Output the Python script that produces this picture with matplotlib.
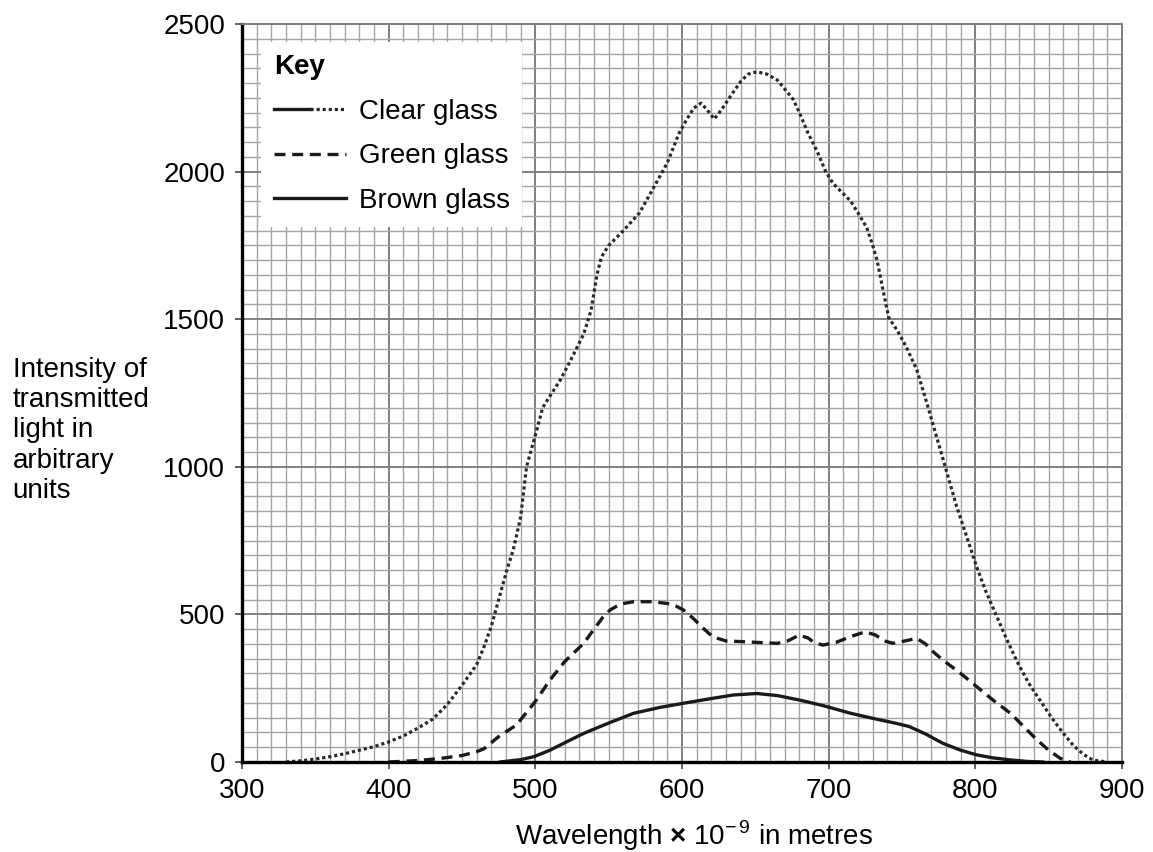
import matplotlib
matplotlib.use("Agg")
import matplotlib.pyplot as plt
from matplotlib.lines import Line2D
from matplotlib.legend_handler import HandlerTuple
from matplotlib.ticker import MultipleLocator

plt.rcParams['font.family'] = ['Liberation Sans', 'DejaVu Sans']
plt.rcParams['mathtext.fontset'] = 'custom'
plt.rcParams['mathtext.rm'] = 'Liberation Sans'
plt.rcParams['mathtext.bf'] = 'Liberation Sans:bold'

# Values (wavelength in nm, intensity in arbitrary units)
clear_x = [330, 340, 350, 360, 370, 380, 390, 400, 410, 420, 430, 440, 450, 460,
           465, 470, 475, 480, 485, 487, 490, 494, 501, 505, 510, 517, 525, 533,
           538, 542, 545, 550, 560, 571, 580, 590, 598, 603, 608, 613, 617, 622,
           627, 633, 640, 645, 651, 658, 665, 670, 676, 680, 686, 692, 698, 703,
           709, 715, 720, 726, 730, 733, 737, 741, 747, 753, 760, 767, 776, 787,
           795, 801, 807, 814, 821, 828, 836, 844, 852, 860, 867, 874, 880, 890]
clear_y = [0, 4, 10, 18, 28, 40, 52, 68, 88, 115, 145, 195, 260, 330,
           390, 460, 550, 640, 720, 763, 830, 1000, 1125, 1200, 1240, 1294, 1370, 1450,
           1530, 1650, 1710, 1750, 1800, 1860, 1940, 2030, 2130, 2175, 2215, 2232, 2210, 2178,
           2210, 2255, 2305, 2330, 2338, 2330, 2310, 2280, 2243, 2200, 2130, 2070, 2000, 1960,
           1930, 1900, 1860, 1810, 1750, 1700, 1600, 1505, 1460, 1405, 1330, 1215, 1060, 870,
           750, 660, 580, 500, 420, 345, 270, 210, 150, 97, 55, 25, 7, 0]

green_x = [400, 420, 435, 450, 460, 465, 475, 487, 500, 510, 520, 533, 540, 546,
           551, 558, 567, 580, 590, 596, 601, 608, 614, 621, 630, 640, 652, 665,
           672, 680, 686, 690, 696, 705, 715, 725, 732, 738, 744, 752, 760, 766,
           772, 778, 790, 801, 812, 824, 833, 842, 850, 858, 865]
green_y = [0, 5, 12, 22, 35, 45, 86, 125, 205, 278, 340, 402, 450, 490,
           515, 535, 543, 543, 537, 528, 515, 485, 455, 424, 410, 408, 405, 402,
           410, 430, 420, 405, 396, 405, 425, 441, 430, 410, 402, 410, 419, 400,
           370, 345, 300, 255, 210, 165, 120, 75, 40, 12, 0]

brown_x = [476, 490, 499, 510, 520, 533, 550, 567, 585, 601, 620, 635, 651, 665,
           680, 697, 715, 730, 746, 755, 766, 778, 790, 801, 812, 824, 835, 846]
brown_y = [0, 8, 18, 40, 65, 97, 132, 165, 185, 199, 215, 227, 232, 225,
           210, 190, 165, 148, 131, 120, 95, 63, 40, 24, 14, 7, 2, 0]

x_ticks = [300, 400, 500, 600, 700, 800, 900]
y_ticks = [0, 500, 1000, 1500, 2000, 2500]

fig = plt.figure(figsize=(11.53, 8.52), dpi=100)
ax = fig.add_axes([242 / 1153, 1 - 762 / 852, 880 / 1153, 738 / 852])

ax.set_xlim(300, 900)
ax.set_ylim(0, 2500)
ax.set_xticks(x_ticks)
ax.set_yticks(y_ticks)
ax.xaxis.set_minor_locator(MultipleLocator(10))
ax.yaxis.set_minor_locator(MultipleLocator(50))

# Graph paper grid
ax.grid(which='minor', color='#a4a4a4', linewidth=1.0)
ax.grid(which='major', color='#808080', linewidth=1.4)
ax.set_axisbelow(True)
ax.tick_params(which='minor', length=0)
ax.tick_params(which='major', direction='out', length=5, width=1.2,
               labelsize=20, color='#444444')
ax.tick_params(axis='x', which='major', pad=6.5)
ax.tick_params(axis='y', which='major', pad=7)

for side in ['left', 'bottom']:
    ax.spines[side].set_linewidth(2.4)
    ax.spines[side].set_color('black')
for side in ['top', 'right']:
    ax.spines[side].set_linewidth(1.4)
    ax.spines[side].set_color('#808080')

clear_line, = ax.plot(clear_x, clear_y, color='#2a2a2a', linewidth=2.3,
                      linestyle=(0, (1, 0.9)), dash_capstyle='butt')
green_line, = ax.plot(green_x, green_y, color='#1a1a1a', linewidth=2.4,
                      linestyle=(0, (3.3, 2)))
brown_line, = ax.plot(brown_x, brown_y, color='#1a1a1a', linewidth=2.4)

# Key: the clear glass symbol is half solid, half dotted
solid_half = Line2D([], [], color='#1a1a1a', linewidth=2.4)
dotted_half = Line2D([], [], color='#2a2a2a', linewidth=2.3,
                     linestyle=(0, (1, 0.9)), dash_capstyle='butt')
leg = ax.legend([(solid_half, dotted_half), green_line, brown_line],
                ['Clear glass', 'Green glass', 'Brown glass'],
                handler_map={tuple: HandlerTuple(ndivide=None, pad=0)},
                title='Key', alignment='left',
                title_fontproperties={'weight': 'bold', 'size': 20},
                loc='upper left', bbox_to_anchor=(0.022, 0.976),
                borderaxespad=0, fontsize=20, handlelength=2.6,
                handletextpad=0.45, labelspacing=0.67, borderpad=0.45,
                frameon=True, fancybox=False, framealpha=1,
                facecolor='white', edgecolor='none')

fig.text(0.011, 1 - 357 / 852,
         'Intensity of\ntransmitted\nlight in\narbitrary\nunits',
         fontsize=20, ha='left', va='top', linespacing=1.21)
fig.text(694 / 1153, 1 - 845 / 852,
         r'Wavelength $\mathbf{\times}$ 10$^{-\,9}$ in metres',
         fontsize=20, ha='center', va='baseline')

fig.savefig('out.png', dpi=100)
